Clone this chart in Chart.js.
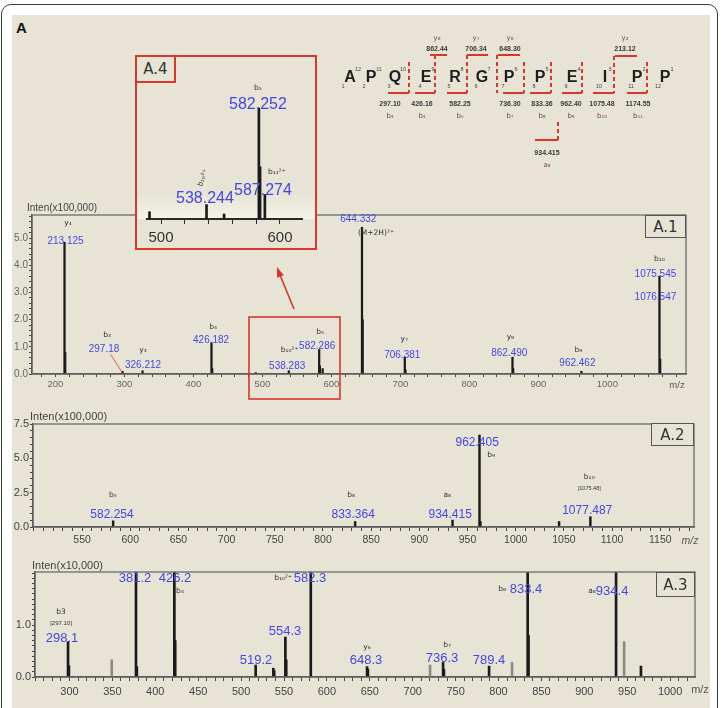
<!DOCTYPE html>
<html><head><meta charset="utf-8">
<script src="https://cdn.jsdelivr.net/npm/chart.js@4.4.1/dist/chart.umd.min.js"></script>
<style>
html,body{margin:0;padding:0;background:#fff;}
#root{position:relative;width:725px;height:708px;overflow:hidden;font-family:"Liberation Sans",Arial,sans-serif;}
.abs{position:absolute;}
canvas{position:absolute;}
.tag{position:absolute;box-sizing:border-box;background:#e7e4d6;color:#333;font-family:"DejaVu Sans",sans-serif;font-size:15px;display:flex;align-items:center;justify-content:center;}
</style></head>
<body><div id="root">
<div class="abs" style="left:1px;top:4px;width:717px;height:716px;border:1.5px solid #3a3a3a;border-radius:10px;box-sizing:border-box;background:#fff;"></div>
<div class="abs" style="left:12px;top:15px;width:698px;height:700px;background:#e7e4d6;"></div>
<div class="abs" style="left:16px;top:19px;font-weight:bold;font-size:15px;color:#111;">A</div>
<canvas id="c1" width="700" height="200" style="left:0;top:200px"></canvas>
<canvas id="c2" width="710" height="145" style="left:0;top:410px"></canvas>
<canvas id="c3" width="710" height="150" style="left:0;top:558px"></canvas>
<div class="abs" style="left:135px;top:55px;width:182px;height:195px;box-sizing:border-box;border:2px solid #d8362e;background:#e7e4d6;"></div>
<canvas id="c4" width="178" height="186" style="left:137px;top:60px"></canvas>
<div class="tag" style="left:135px;top:55px;width:41px;height:28px;border:2px solid #d8362e;">A.4</div>
<div class="tag" style="left:645px;top:215px;width:41px;height:23px;border:1.2px solid #555;">A.1</div>
<div class="tag" style="left:651px;top:423px;width:43px;height:23px;border:1.2px solid #555;">A.2</div>
<div class="tag" style="left:656px;top:572px;width:39px;height:25px;border:1.2px solid #555;">A.3</div>
<svg class="abs" width="725" height="708" style="left:0;top:0">
 <g stroke="#d8362e" stroke-width="1.6" fill="none">
  <rect x="249" y="317" width="91" height="82"/>
  <line x1="294" y1="309" x2="280" y2="275"/>
 </g>
 <polygon points="277,267 283.8,275.2 277.0,277.8" fill="#d8362e"/>
 <g stroke="#d8362e" stroke-width="2" fill="none">
  <line x1="388" y1="93" x2="409" y2="93"/><line x1="415" y1="93" x2="435" y2="93"/>
  <line x1="447" y1="93" x2="467" y2="93"/><line x1="503" y1="93" x2="524" y2="93"/>
  <line x1="530" y1="93" x2="551" y2="93"/><line x1="562" y1="93" x2="582" y2="93"/>
  <line x1="593" y1="93" x2="614" y2="93"/><line x1="627" y1="93" x2="647" y2="93"/>
  <line x1="430" y1="55" x2="447" y2="55"/><line x1="467" y1="55" x2="488" y2="55"/>
  <line x1="498" y1="55" x2="520" y2="55"/><line x1="615" y1="56" x2="637" y2="56"/>
  <line x1="535" y1="140" x2="558" y2="140"/>
 </g>
 <g stroke="#d8362e" stroke-width="2" stroke-dasharray="4 3" fill="none">
  <line x1="409" y1="62" x2="409" y2="93"/><line x1="435" y1="55" x2="435" y2="93"/>
  <line x1="467" y1="55" x2="467" y2="93"/><line x1="497" y1="55" x2="497" y2="93"/>
  <line x1="524" y1="62" x2="524" y2="93"/><line x1="551" y1="62" x2="551" y2="93"/>
  <line x1="582" y1="62" x2="582" y2="93"/><line x1="614" y1="56" x2="614" y2="93"/>
  <line x1="647" y1="62" x2="647" y2="93"/><line x1="558" y1="122" x2="558" y2="140"/>
 </g>
 <g font-family="Liberation Sans, Arial" font-weight="bold" font-size="16" fill="#1e1e1e" text-anchor="middle">
  <text x="350" y="82">A</text><text x="371" y="82">P</text><text x="395" y="82">Q</text>
  <text x="426" y="82">E</text><text x="455" y="82">R</text><text x="482" y="82">G</text>
  <text x="509" y="82">P</text><text x="540" y="82">P</text><text x="572" y="82">E</text>
  <text x="605" y="82">I</text><text x="637" y="82">P</text><text x="665" y="82">P</text>
 </g>
 <g font-family="Liberation Sans, Arial" font-size="5.5" fill="#444" text-anchor="middle">
  <text x="358" y="71">12</text><text x="379" y="71">11</text><text x="403" y="71">10</text>
  <text x="433" y="71">9</text><text x="462" y="71">8</text><text x="489" y="71">7</text>
  <text x="516" y="71">6</text><text x="547" y="71">5</text><text x="579" y="71">4</text>
  <text x="610" y="71">3</text><text x="644" y="71">2</text><text x="672" y="71">1</text>
  <text x="343" y="88">1</text><text x="364" y="88">2</text><text x="389" y="88">3</text>
  <text x="420" y="88">4</text><text x="449" y="88">5</text><text x="476" y="88">6</text>
  <text x="503" y="88">7</text><text x="534" y="88">8</text><text x="566" y="88">9</text>
  <text x="599" y="88">10</text><text x="631" y="88">11</text><text x="658" y="88">12</text>
 </g>
 <g font-family="Liberation Sans, Arial" font-weight="bold" font-size="7" fill="#3a3a3a" text-anchor="middle">
  <text x="390" y="106">297.10</text><text x="422" y="106">426.16</text><text x="460" y="106">582.25</text>
  <text x="510" y="106">736.30</text><text x="542" y="106">833.36</text><text x="571" y="106">962.40</text>
  <text x="602" y="106">1075.48</text><text x="638" y="106">1174.55</text>
  <text x="437" y="51">862.44</text><text x="476" y="51">706.34</text><text x="510" y="51">648.30</text>
  <text x="625" y="51">213.12</text>
  <text x="547" y="155">934.415</text>
 </g>
 <g font-family="DejaVu Sans, sans-serif" font-size="7" fill="#7a4a3a" text-anchor="middle">
  <text x="390" y="118">b₃</text><text x="422" y="118">b₄</text><text x="460" y="118">b₅</text>
  <text x="510" y="118">b₇</text><text x="542" y="118">b₈</text><text x="571" y="118">b₉</text>
  <text x="602" y="118">b₁₀</text><text x="638" y="118">b₁₁</text>
  <text x="437" y="40">y₈</text><text x="476" y="40">y₇</text><text x="510" y="40">y₆</text>
  <text x="625" y="40">y₂</text>
  <text x="547" y="167">a₈</text>
 </g>
</svg>
</div>
<script>
// ===== DATA =====
// A.1  (intensity x100,000)
const a1Mz  = [213.125, 214.13, 297.18, 326.212, 426.182, 427.19, 490.3, 538.283, 582.286, 583.29, 587.27, 644.332, 645.33, 706.381, 707.38, 862.490, 863.49, 962.462, 1075.545, 1076.547];
const a1Int = [4.85,    0.8,    0.10,   0.12,    1.15,    0.2,    0.05,  0.12,    0.90,    0.30,   0.20,   5.40,    2.0,    0.62,    0.15,   0.62,    0.20,   0.10,    3.60,     0.55];
// A.2  (intensity x100,000)
const a2Mz  = [582.254, 833.364, 934.415, 962.405, 963.41, 1045.0, 1077.487];
const a2Int = [0.45,    0.40,    0.50,    6.70,    0.40,   0.40,   0.75];
// A.3  (intensity x10,000) - annotated peaks and unannotated minor peaks
const a3Mz  = [298.3, 299.3, 377.5, 378.5, 422.2, 423.2, 517.0, 537.6, 538.6, 551.6, 552.6, 581.2, 646.8, 647.8, 735.4, 736.4, 789.0, 834.0, 835.0, 937.0, 966.0];
const a3Int = [0.68,  0.22,  2.50,  0.20,  2.50,  0.70,  0.23,  0.17,  0.12,  0.77,  0.33,  2.50,  0.20,  0.15,  0.28,  0.15,  0.21,  2.50,  0.80,  2.50,  0.21];
const a3MinorMz  = [349.2, 720.2, 815.8, 946.4];
const a3MinorInt = [0.33,  0.23,  0.28,  0.68];
// A.4 inset (relative)
const a4Mz  = [490.3, 538.244, 553.0, 582.252, 583.25, 587.274];
const a4Int = [0.065, 0.13,    0.045, 1.00,    0.47,   0.22];
// tick labels
const a1XTicks = [200,300,400,500,600,700,800,900,1000];
const a1YTicks = [0,1,2,3,4,5];
const a2XTicks = [550,600,650,700,750,800,850,900,950,1000,1050,1100,1150];
const a2YTicks = [0,2.5,5,7.5];
const a3XTicks = [300,350,400,450,500,550,600,650,700,750,800,850,900,950,1000];
const a3YTicks = [0,1];
const a4XTicks = [500,600];
// peak annotations (label text)
const a1Labels = [
 [218.2,5.55,'y₄','i'],[214.6,4.89,'213.125','n'],[274.8,1.43,'b₃','i'],[270.4,0.92,'297.18','n'],
 [327,0.88,'y₃','i'],[327,0.33,'326.212','n'],[428.5,1.73,'b₄','i'],[425.6,1.25,'426.182','n'],
 [539.5,0.88,'b₁₀²⁺','i'],[535.9,0.29,'538.283','n'],[583.8,1.54,'b₅','i'],[579.4,1.03,'582.286','n'],
 [638.9,5.70,'644.332','n'],[664.5,5.18,'(M+2H)²⁺','i'],[705.6,1.29,'y₇','i'],[702.7,0.70,'706.381','n'],
 [859.4,1.36,'y₈','i'],[857.9,0.77,'862.490','n'],[958,0.88,'b₉','i'],[956.6,0.40,'962.462','n'],
 [1075.5,4.23,'b₁₀','i'],[1069.7,3.68,'1075.545','n'],[1069.7,2.83,'1076.547','n']
];
const a2Labels = [
 [582.1,2.33,'b₅','i'],[581.1,0.87,'582.254','n'],[829.2,2.33,'b₈','i'],[831.3,0.87,'833.364','n'],
 [929,2.33,'a₈','i'],[932,0.87,'934.415','n'],[960,6.12,'962.405','n'],[974.5,5.24,'b₉','i'],
 [1076.3,3.64,'b₁₀','i'],[1076.3,2.84,'[1075.48]','s'],[1074.2,1.17,'1077.487','n']
];
const a3Labels = [
 [376.4,1.90,'381.2','n'],[423,1.90,'426.2','n'],[428.8,1.65,'b₄','i'],[290.1,1.25,'b3','i'],
 [290.1,1.04,'[297.10]','s'],[291.3,0.75,'298.1','n'],[517.4,0.31,'519.2','n'],[551.2,0.87,'554.3','n'],
 [548.9,1.90,'b₁₀²⁺','i'],[580.4,1.90,'582.3','n'],[646.8,0.58,'y₆','i'],[645.6,0.31,'648.3','n'],
 [740,0.62,'b₇','i'],[734.2,0.35,'736.3','n'],[789,0.31,'789.4','n'],[804.1,1.69,'b₈','i'],
 [832.1,1.69,'833.4','n'],[909,1.65,'a₈','i'],[932.4,1.65,'934.4','n']
];
const a4Labels = [
 [581.5,1.18,'b₅','i'],[581.5,1.03,'582.252','n'],[536.9,0.18,'538.244','n'],[585.7,0.26,'587.274','n'],
 [597.4,0.42,'b₁₁²⁺','i'],[535.3,0.37,'b₁₀²⁺','i']
];

// ===== RENDERING =====
const BLUE = '#4646e4';
const deco = {};
const decoPlugin = {
  id: 'deco',
  beforeDraw(chart) {
    const d = deco[chart.canvas.id]; if (!d) return;
    const ctx = chart.ctx;
    if (d.bg) {
      ctx.save(); ctx.fillStyle = d.bg; ctx.fillRect(0,0,chart.width,chart.height);
      if (d.band) {
        const ca = chart.chartArea;
        const g = ctx.createLinearGradient(0, ca.bottom-26, 0, ca.bottom);
        g.addColorStop(0,'rgba(255,255,245,0)'); g.addColorStop(1,'rgba(255,255,245,0.55)');
        ctx.fillStyle = g; ctx.fillRect(0, ca.bottom-26, chart.width, 26);
      }
      ctx.restore();
    }
  },
  afterDraw(chart) {
    const d = deco[chart.canvas.id]; if (!d) return;
    const {ctx, chartArea: ca} = chart; const xs = chart.scales.x, ys = chart.scales.y;
    ctx.save();
    if (d.box) { ctx.strokeStyle = '#6a6a6a'; ctx.lineWidth = 1.3; ctx.strokeRect(ca.left, ca.top, ca.right-ca.left, ca.bottom-ca.top); }
    ctx.textBaseline = 'middle';
    if (d.title) { ctx.fillStyle = '#444'; ctx.font = d.titleFont; ctx.textAlign = 'left'; ctx.fillText(d.title, ca.left + d.titleDx, ca.top + d.titleDy); }
    if (d.mz) { ctx.fillStyle = '#555'; ctx.font = d.mzFont; ctx.textAlign = 'center'; ctx.fillText('m/z', ca.right + d.mzDx, ca.bottom + d.mzDy); }
    if (d.leaders) {
      ctx.strokeStyle = '#d8603e'; ctx.lineWidth = 1;
      d.leaders.forEach(l => { ctx.beginPath(); ctx.moveTo(xs.getPixelForValue(l[0]), ys.getPixelForValue(l[1])); ctx.lineTo(xs.getPixelForValue(l[2]), ys.getPixelForValue(l[3])); ctx.stroke(); });
    }
    ctx.textAlign = 'center';
    d.labels.forEach(l => {
      const px = xs.getPixelForValue(l[0]), py = ys.getPixelForValue(l[1]);
      if (l[3] === 'n') { ctx.font = d.numFont; ctx.fillStyle = BLUE; }
      else if (l[3] === 's') { ctx.font = d.smallFont; ctx.fillStyle = '#333'; }
      else { ctx.font = d.ionFont; ctx.fillStyle = '#333'; }
      if (l[2] === 'b₁₀²⁺' && chart.canvas.id === 'c4') {
        ctx.save(); ctx.translate(px, py); ctx.rotate(-1.2); ctx.fillText(l[2], 0, 0); ctx.restore();
      } else ctx.fillText(l[2], px, py);
    });
    ctx.restore();
  }
};

function steps(min, max, step) {
  const out = []; const k0 = Math.ceil(min/step - 1e-9), k1 = Math.floor(max/step + 1e-9);
  for (let k = k0; k <= k1; k++) out.push(Math.round(k*step*1000)/1000);
  return out;
}
function has(arr, v) { return arr.some(a => Math.abs(a - v) < 1e-6); }

function spectrum(id, o) {
  const pts = [], cols = [];
  o.series.forEach(s => s.mz.forEach((m, i) => { pts.push({x: m, y: s.h[i]}); cols.push(s.color); }));
  deco[id] = o.deco;
  return new Chart(document.getElementById(id), {
    type: 'bar',
    data: { datasets: [{ data: pts, backgroundColor: cols, barThickness: o.bar, borderWidth: 0, clip: 0, categoryPercentage: 1, barPercentage: 1 }] },
    options: {
      responsive: false, animation: false, events: [],
      layout: { padding: o.pad },
      plugins: { legend: { display: false }, tooltip: { enabled: false } },
      scales: {
        x: {
          type: 'linear', min: o.xMin, max: o.xMax, offset: false,
          grid: { offset: false, drawOnChartArea: false, drawTicks: true, tickLength: o.xTickLen, color: o.axisColor, lineWidth: 1 },
          border: { display: true, color: o.axisColor, width: o.axisW },
          ticks: { autoSkip: false, maxRotation: 0, minRotation: 0, padding: o.xPad, color: o.tickColor, font: o.xFont,
                   callback: v => has(o.xLab, v) ? String(v) : '' },
          afterBuildTicks: sc => { sc.ticks = steps(o.xMin, o.xMax, o.xStep).map(v => ({value: v})); },
          afterFit: sc => { sc.height = o.xH; }
        },
        y: {
          display: o.yShow, min: 0, max: o.yMax, stacked: false,
          grid: { drawOnChartArea: false, drawTicks: true, tickLength: 3, color: o.axisColor, lineWidth: 1 },
          border: { display: true, color: o.axisColor, width: o.axisW },
          ticks: { autoSkip: false, padding: 1, color: o.tickColor, font: o.yFont,
                   callback: v => has(o.yLab, v) ? v.toFixed(1) : '' },
          afterBuildTicks: sc => { sc.ticks = steps(0, o.yMax, o.yStep).map(v => ({value: v})); },
          afterFit: sc => { sc.width = o.yW; }
        }
      }
    },
    plugins: [decoPlugin]
  });
}

const FF = '"Liberation Sans", Arial, sans-serif';
const DJ = '"DejaVu Sans", sans-serif';

spectrum('c1', {
  series: [{mz: a1Mz, h: a1Int, color: '#1a1a1a'}], bar: 1.6,
  pad: {left: 0, top: 15, right: 14, bottom: 0},
  xMin: 166, xMax: 1114, xStep: 20, xLab: a1XTicks, xH: 26, xTickLen: 3, xPad: 2,
  yMax: 5.85, yStep: 0.2, yLab: a1YTicks, yW: 32, yShow: true,
  axisColor: '#444', axisW: 1.4, tickColor: '#666',
  xFont: {family: FF, size: 9.5}, yFont: {family: FF, size: 10},
  deco: { box: true, title: 'Inten(x100,000)', titleFont: '10px ' + FF, titleDx: -5, titleDy: -7,
          mz: true, mzFont: '9.5px ' + FF, mzDx: -9, mzDy: 11,
          numFont: '10px ' + FF, ionFont: '7.5px ' + DJ, smallFont: '6px ' + FF,
          leaders: [[280, 0.72, 296.6, 0.06]], labels: a1Labels }
});
spectrum('c2', {
  series: [{mz: a2Mz, h: a2Int, color: '#1a1a1a'}], bar: 1.8,
  pad: {left: 0, top: 14, right: 16, bottom: 0},
  xMin: 499.1, xMax: 1185, xStep: 10, xLab: a2XTicks, xH: 28, xTickLen: 4, xPad: 3,
  yMax: 7.5, yStep: 0.5, yLab: a2YTicks, yW: 33, yShow: true,
  axisColor: '#444', axisW: 1.4, tickColor: '#444',
  xFont: {family: FF, size: 10.5}, yFont: {family: FF, size: 11},
  deco: { box: true, title: 'Inten(x100,000)', titleFont: '11px ' + FF, titleDx: -3, titleDy: -7,
          mz: true, mzFont: 'italic 10.5px ' + FF, mzDx: -4, mzDy: 14,
          numFont: '12px ' + FF, ionFont: '7.5px ' + DJ, smallFont: '5.5px ' + FF,
          labels: a2Labels }
});
spectrum('c3', {
  series: [{mz: a3Mz, h: a3Int, color: '#1a1a1a'}, {mz: a3MinorMz, h: a3MinorInt, color: '#8c8c86'}], bar: 2,
  pad: {left: 0, top: 14, right: 15, bottom: 0},
  xMin: 259.8, xMax: 1029, xStep: 10, xLab: a3XTicks, xH: 31, xTickLen: 4, xPad: 4,
  yMax: 2.02, yStep: 0.1, yLab: a3YTicks, yW: 35, yShow: true,
  axisColor: '#444', axisW: 1.4, tickColor: '#444',
  xFont: {family: FF, size: 11}, yFont: {family: FF, size: 11},
  deco: { box: true, title: 'Inten(x10,000)', titleFont: '11px ' + FF, titleDx: -3, titleDy: -6,
          mz: true, mzFont: '11px ' + FF, mzDx: 5, mzDy: 13,
          numFont: '13px ' + FF, ionFont: '7.5px ' + DJ, smallFont: '6px ' + FF,
          labels: a3Labels }
});
spectrum('c4', {
  series: [{mz: a4Mz, h: a4Int, color: '#1a1a1a'}], bar: 2,
  pad: {left: 10, top: 35, right: 13, bottom: 0},
  xMin: 488.2, xMax: 618.5, xStep: 20, xLab: a4XTicks, xH: 27, xTickLen: 5, xPad: 5,
  yMax: 1.117, yStep: 0.5, yLab: [], yW: 0, yShow: false,
  axisColor: '#2a2a2a', axisW: 2, tickColor: '#333',
  xFont: {family: FF, size: 15}, yFont: {family: FF, size: 10},
  deco: { bg: '#e7e4d6', band: true, box: false,
          numFont: '16px ' + FF, ionFont: '7.5px ' + DJ, smallFont: '6px ' + FF,
          labels: a4Labels }
});
</script>
</body></html>
